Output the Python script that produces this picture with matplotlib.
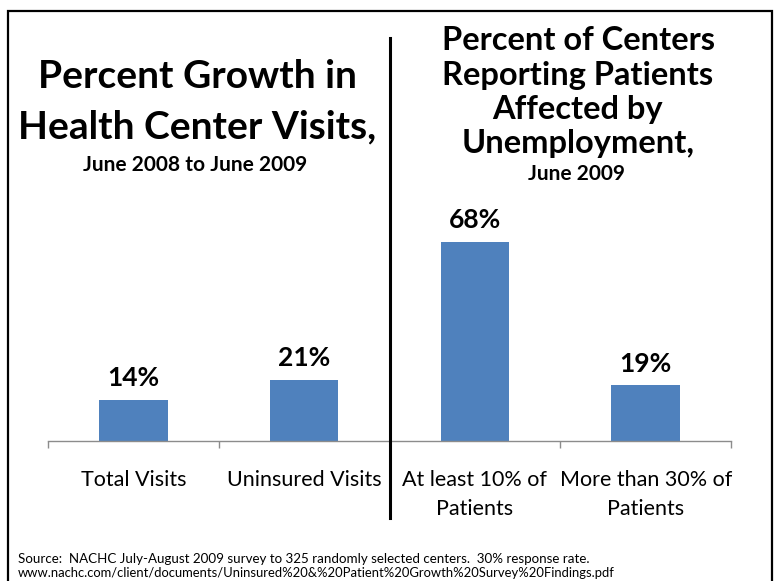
import matplotlib
matplotlib.use("Agg")
import matplotlib.pyplot as plt
from matplotlib.patches import Rectangle

categories = ["Total Visits", "Uninsured Visits", "At least 10% of\nPatients", "More than 30% of\nPatients"]
values = [14, 21, 68, 19]
labels = ["14%", "21%", "68%", "19%"]

FONT = "Lato"
plt.rcParams['font.family'] = [FONT, 'DejaVu Sans']

W, H = 778, 581
fig = plt.figure(figsize=(W/100, H/100), dpi=100)

def fx(px):
    return px / W
def fy(py):
    return 1 - py / H

# axes: x 48..731 px, baseline at 441, top at 207
ax = fig.add_axes([fx(48), fy(441), fx(731) - fx(48), (441 - 207) / H])
x = list(range(len(values)))
ax.bar(x, values, width=0.4, color="#4F81BD", zorder=2)
ax.set_xlim(-0.5, 3.5)
ax.set_ylim(0, 80)
for s in ["top", "right", "left"]:
    ax.spines[s].set_visible(False)
ax.spines["bottom"].set_color("#8C8C8C")
ax.spines["bottom"].set_linewidth(1.0)
ax.set_yticks([])
ax.set_xticks([-0.5, 0.5, 1.5, 2.5, 3.5])
ax.set_xticklabels([])
ax.tick_params(axis="x", direction="out", length=5, color="#8C8C8C", width=1.0)
ax.set_xticks(x, minor=True)
ax.set_xticklabels(categories, minor=True, fontsize=15.5, linespacing=1.55, va="top")
ax.tick_params(axis="x", which="minor", length=0, pad=21)

for xi, v, lab in zip(x, values, labels):
    ax.annotate(lab, (xi, v), xytext=(0, 7), textcoords="offset points",
                ha="center", va="bottom", fontsize=19, fontweight="bold")

# divider line
ax.axvline(1.5, ymin=(441 - 518) / 234, ymax=(441 - 38) / 234, color="black",
           linewidth=2.2, clip_on=False, zorder=3)

# titles
fig.text(fx(197), fy(77), "Percent Growth in", ha="center", va="center", fontsize=28, fontweight="bold")
fig.text(fx(197), fy(127), "Health Center Visits,", ha="center", va="center", fontsize=28, fontweight="bold")
fig.text(fx(195), fy(165), "June 2008 to June 2009", ha="center", va="center", fontsize=15, fontweight="bold")

rt = ["Percent of Centers", "Reporting Patients", "Affected by", "Unemployment,"]
ry = [41, 76, 110, 144]
for t, yy in zip(rt, ry):
    fig.text(fx(578), fy(yy), t, ha="center", va="center", fontsize=23.5, fontweight="bold")
fig.text(fx(577), fy(174), "June 2009", ha="center", va="center", fontsize=15, fontweight="bold")

fig.text(fx(18), fy(559), "Source:  NACHC July-August 2009 survey to 325 randomly selected centers.  30% response rate.",
         ha="left", va="center", fontsize=9.6)
fig.text(fx(18), fy(573), "www.nachc.com/client/documents/Uninsured%20&%20Patient%20Growth%20Survey%20Findings.pdf",
         ha="left", va="center", fontsize=9.4)

# border
fig.add_artist(Rectangle((fx(8), fy(600)), fx(772) - fx(8), (600 - 11) / H,
                         transform=fig.transFigure, fill=False, edgecolor="black", linewidth=1.6))

fig.savefig("out.png", dpi=100)
